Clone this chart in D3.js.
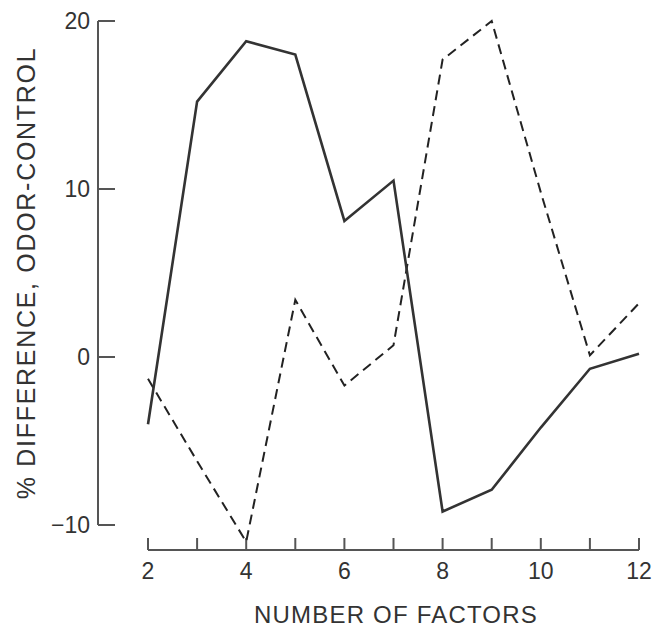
<!DOCTYPE html>
<html>
<head>
<meta charset="utf-8">
<script src="https://cdn.jsdelivr.net/npm/d3@7"></script>
<style>
  body { margin: 0; background: #fff; }
  text { font-family: "Liberation Sans", Arial, sans-serif; fill: #333; }
</style>
</head>
<body>
<svg id="chart"></svg>
<script>
// Données
const factors = [2, 3, 4, 5, 6, 7, 8, 9, 10, 11, 12];
const solidValues = [-4.0, 15.2, 18.8, 18.0, 8.1, 10.5, -9.2, -7.9, -4.2, -0.7, 0.2];
const dashedValues = [-1.3, -6.2, -11.0, 3.4, -1.7, 0.7, 17.7, 20.0, 9.8, 0.1, 3.2];
const yTicks = [-10, 0, 10, 20];
const xTickLabels = [2, 4, 6, 8, 10, 12];

const width = 658;
const height = 627;

const svg = d3.select("#chart")
    .attr("width", width)
    .attr("height", height);

const x = d3.scaleLinear().domain([2, 12]).range([148, 639]);
const y = d3.scaleLinear().domain([-10, 20]).range([525, 21]);

// Axe vertical
svg.append("line")
    .attr("x1", 98).attr("x2", 98)
    .attr("y1", y(20)).attr("y2", y(-10))
    .attr("stroke", "#555").attr("stroke-width", 2);

svg.append("g")
    .selectAll("line")
    .data(yTicks)
    .join("line")
    .attr("x1", 98).attr("x2", 115)
    .attr("y1", d => y(d)).attr("y2", d => y(d))
    .attr("stroke", "#555").attr("stroke-width", 2);

svg.append("g")
    .selectAll("text")
    .data(yTicks)
    .join("text")
    .attr("x", 90)
    .attr("y", d => y(d))
    .attr("dy", "0.36em")
    .attr("text-anchor", "end")
    .attr("font-size", 23)
    .text(d => d < 0 ? "\u2212" + Math.abs(d) : d);

// Axe horizontal
const xAxisY = 550;
svg.append("line")
    .attr("x1", x(2)).attr("x2", x(12))
    .attr("y1", xAxisY).attr("y2", xAxisY)
    .attr("stroke", "#555").attr("stroke-width", 2);

svg.append("g")
    .selectAll("line")
    .data(factors)
    .join("line")
    .attr("x1", d => x(d)).attr("x2", d => x(d))
    .attr("y1", xAxisY).attr("y2", xAxisY - 12)
    .attr("stroke", "#555").attr("stroke-width", 2);

svg.append("g")
    .selectAll("text")
    .data(xTickLabels)
    .join("text")
    .attr("x", d => x(d))
    .attr("y", 579)
    .attr("text-anchor", "middle")
    .attr("font-size", 23)
    .text(d => d);

// Titres des axes
svg.append("text")
    .attr("x", 396)
    .attr("y", 623)
    .attr("text-anchor", "middle")
    .attr("font-size", 24)
    .attr("letter-spacing", 1.2)
    .text("NUMBER OF FACTORS");

svg.append("text")
    .attr("transform", "translate(35,273) rotate(-90)")
    .attr("text-anchor", "middle")
    .attr("font-size", 25)
    .attr("letter-spacing", 1.7)
    .text("% DIFFERENCE, ODOR-CONTROL");

// Courbes
const line = d3.line()
    .x((d, i) => x(factors[i]))
    .y(d => y(d));

svg.append("path")
    .datum(dashedValues)
    .attr("d", line)
    .attr("fill", "none")
    .attr("stroke", "#222")
    .attr("stroke-width", 2)
    .attr("stroke-dasharray", "10,6");

svg.append("path")
    .datum(solidValues)
    .attr("d", line)
    .attr("fill", "none")
    .attr("stroke", "#333")
    .attr("stroke-width", 2.6)
    .attr("stroke-linejoin", "miter");
</script>
</body>
</html>
